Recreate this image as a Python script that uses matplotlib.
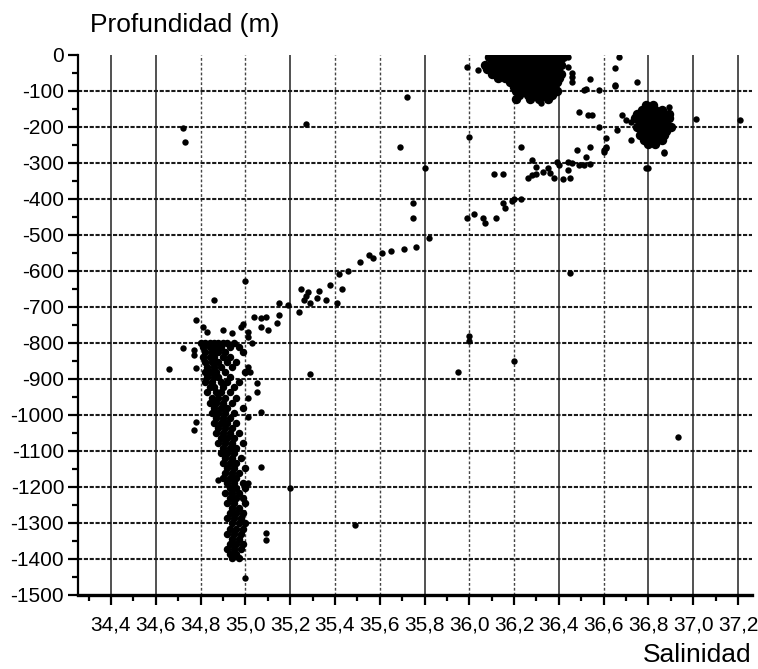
import numpy as np
import matplotlib.pyplot as plt

plt.rcParams['font.family'] = ['Liberation Sans', 'DejaVu Sans']

## Datos (salinidad, profundidad en m)

# nucleo superficial (36.1-36.4, 0 a -125 m): filas de profundidad y salinidades
sup_prof = [-5, -15, -27, -40, -52, -64, -76, -88, -100, -112, -122]
sup_sal = [
    [36.09, 36.12, 36.15, 36.18, 36.21, 36.24, 36.27, 36.30, 36.33, 36.36, 36.39, 36.42],
    [36.10, 36.13, 36.16, 36.19, 36.22, 36.25, 36.28, 36.31, 36.34, 36.37, 36.40],
    [36.07, 36.11, 36.14, 36.17, 36.20, 36.23, 36.26, 36.29, 36.32, 36.35, 36.38, 36.41],
    [36.08, 36.12, 36.15, 36.18, 36.21, 36.24, 36.27, 36.30, 36.33, 36.36, 36.39],
    [36.10, 36.14, 36.17, 36.20, 36.23, 36.26, 36.29, 36.32, 36.35, 36.38, 36.41],
    [36.13, 36.16, 36.19, 36.22, 36.25, 36.28, 36.31, 36.34, 36.37, 36.40],
    [36.18, 36.21, 36.24, 36.27, 36.30, 36.33, 36.36, 36.39],
    [36.20, 36.23, 36.26, 36.29, 36.32, 36.35, 36.38],
    [36.21, 36.24, 36.27, 36.30, 36.33, 36.36, 36.39],
    [36.22, 36.26, 36.29, 36.33, 36.37],
    [36.21, 36.27, 36.31, 36.35],
]

# nucleo a ~200 m (36.75-36.9)
med_prof = [-140, -152, -164, -176, -188, -200, -212, -224, -236, -248]
med_sal = [
    [36.79, 36.82],
    [36.77, 36.80, 36.83, 36.86],
    [36.75, 36.78, 36.81, 36.84, 36.87, 36.89],
    [36.74, 36.77, 36.80, 36.83, 36.86, 36.89],
    [36.76, 36.79, 36.82, 36.85, 36.88],
    [36.75, 36.78, 36.81, 36.84, 36.87, 36.90],
    [36.77, 36.80, 36.83, 36.86, 36.88],
    [36.76, 36.79, 36.82, 36.85, 36.87],
    [36.78, 36.81, 36.84, 36.86],
    [36.80, 36.83],
]

# columna profunda (34.8-35.0, -800 a -1400 m)
prof_prof = [-800, -812, -826, -840, -854, -868, -882, -896, -910, -924, -938, -952,
             -966, -980, -994, -1008, -1022, -1036, -1050, -1064, -1078, -1092, -1106,
             -1120, -1134, -1148, -1162, -1176, -1190, -1204, -1218, -1232, -1246,
             -1260, -1274, -1288, -1302, -1316, -1330, -1344, -1358, -1372, -1386, -1398]
prof_sal = [
    [34.80, 34.82, 34.84, 34.86, 34.88, 34.90, 34.92, 34.95],
    [34.81, 34.84, 34.87, 34.89, 34.93, 34.97],
    [34.82, 34.85, 34.88, 34.91, 34.99],
    [34.81, 34.84, 34.86, 34.90, 34.93],
    [34.82, 34.85, 34.88, 34.92, 34.96],
    [34.83, 34.86, 34.89, 34.94],
    [34.82, 34.84, 34.87, 34.91, 35.00],
    [34.83, 34.86, 34.88, 34.93],
    [34.82, 34.85, 34.89, 34.92, 34.97],
    [34.84, 34.86, 34.90, 34.95],
    [34.83, 34.87, 34.89, 34.93],
    [34.85, 34.88, 34.91, 34.96],
    [34.84, 34.87, 34.90, 34.94],
    [34.86, 34.89, 34.92, 34.99],
    [34.85, 34.88, 34.91, 34.95],
    [34.87, 34.90, 34.93],
    [34.86, 34.89, 34.92, 34.96],
    [34.88, 34.91, 34.94],
    [34.87, 34.90, 34.93, 34.97],
    [34.89, 34.92, 34.95],
    [34.88, 34.91, 34.94, 34.99],
    [34.90, 34.93, 34.96],
    [34.89, 34.92, 34.95],
    [34.91, 34.94, 34.98],
    [34.90, 34.93, 34.96],
    [34.92, 34.95, 35.00],
    [34.91, 34.94, 34.97],
    [34.90, 34.93, 34.96],
    [34.92, 34.95, 34.99],
    [34.93, 34.96, 35.00],
    [34.91, 34.94, 34.97],
    [34.93, 34.96, 34.99],
    [34.92, 34.95, 35.00],
    [34.94, 34.97],
    [34.93, 34.96, 34.99],
    [34.92, 34.95, 34.98],
    [34.94, 34.97, 35.00],
    [34.93, 34.96, 34.99],
    [34.92, 34.95, 34.98],
    [34.94, 34.97],
    [34.93, 34.96, 34.99],
    [34.92, 34.95, 34.98],
    [34.93, 34.96],
    [34.94, 34.97],
]

# puntos dispersos
disp_sal = [35.99, 36.04, 36.44, 36.44, 36.46, 36.46, 36.46, 36.54, 36.51, 36.52, 36.58,
            36.65, 36.67, 36.65, 36.75, 36.32, 36.21, 35.72,
            36.65, 36.68, 36.70, 36.72, 36.66, 36.61, 36.61, 36.60, 36.72, 36.87, 36.80,
            36.89, 37.01, 37.21, 36.49, 36.53, 36.55, 36.58,
            36.23, 36.00, 36.48, 36.54, 36.52, 36.60, 36.61, 35.69, 35.80, 36.40, 36.35,
            36.36, 36.39, 36.44, 36.28, 36.30, 36.26, 36.28, 36.30, 36.33, 36.38, 36.42,
            36.45, 36.44, 36.46, 36.49, 36.51, 36.54, 36.79, 36.87, 36.11, 36.15, 36.20,
            36.23, 36.19, 36.15, 36.16, 36.12, 35.99, 36.02, 36.06, 36.07, 35.75, 35.75,
            35.82, 35.71, 35.76, 36.45,
            35.61, 35.57, 35.51, 35.46, 35.42, 35.38, 35.43, 35.33, 35.28, 35.25, 35.27,
            35.32, 35.36, 35.15, 35.19, 35.24, 35.29, 35.41, 35.26, 35.65, 35.55, 35.00,
            34.86, 35.04, 35.07, 35.09, 35.07, 35.10, 35.15, 35.14, 34.78, 34.72, 34.66,
            34.77, 34.77, 34.78, 34.81, 34.83, 34.90, 34.94, 34.98, 34.99, 35.01, 35.01,
            35.03, 35.01, 35.02, 35.29, 35.05, 35.05, 35.07, 35.01, 35.01, 35.07, 35.01,
            35.20, 34.78, 34.77, 34.88, 35.00, 35.09, 35.09,
            34.72, 34.73, 35.27, 36.00, 36.00, 36.20, 35.95, 36.93, 35.49]
disp_prof = [-33, -42, -5, -33, -50, -62, -75, -67, -97, -94, -97,
             -36, -5, -83, -75, -133, -125, -117,
             -86, -167, -180, -186, -208, -230, -258, -269, -236, -269, -314,
             -144, -178, -181, -158, -167, -167, -200,
             -256, -228, -264, -256, -283, -264, -256, -256, -314, -306, -314,
             -328, -297, -297, -292, -311, -342, -333, -331, -325, -342, -344,
             -342, -319, -300, -306, -306, -303, -314, -272, -331, -331, -400,
             -400, -406, -411, -425, -453, -453, -442, -453, -467, -411, -453,
             -508, -539, -533, -606,
             -550, -564, -575, -600, -610, -640, -650, -655, -660, -650, -670,
             -675, -680, -689, -694, -714, -689, -689, -681, -545, -556, -628,
             -681, -728, -731, -728, -756, -764, -722, -744, -736, -814, -872,
             -819, -833, -869, -756, -769, -764, -772, -756, -747, -769, -783,
             -800, -867, -881, -886, -911, -936, -992, -953, -1005, -1144, -1189,
             -1203, -1019, -1042, -1181, -1453, -1328, -1347,
             -203, -242, -193, -780, -795, -850, -880, -1061, -1305]

xticks = [34.4, 34.6, 34.8, 35.0, 35.2, 35.4, 35.6, 35.8, 36.0, 36.2, 36.4, 36.6, 36.8, 37.0, 37.2]
xticklabels = ['34,4', '34,6', '34,8', '35,0', '35,2', '35,4', '35,6', '35,8', '36,0', '36,2',
               '36,4', '36,6', '36,8', '37,0', '37,2']
yticks = list(range(0, -1600, -100))


def aplanar(prof, sal):
    xs, ys = [], []
    for p, fila in zip(prof, sal):
        xs += fila
        ys += [p]*len(fila)
    return xs, ys


fig = plt.figure(figsize=(7.58, 6.69), dpi=100)
ax = fig.add_axes([0.103, 0.111, 0.889, 0.807])

# cuadricula
solidas = [34.4, 34.6, 35.2, 35.8, 36.4, 36.8, 37.0, 37.2]
for x in xticks:
    if x in solidas:
        ax.axvline(x, color='#222222', lw=1.1, zorder=1)
    else:
        ax.axvline(x, color='#444444', lw=1.0, ls=(0, (2, 1.5)), zorder=1)
for y in yticks[1:-1]:
    ax.axhline(y, color='#1a1a1a', lw=1.5, ls=(0, (2, 0.8)), zorder=1)

tamanos = [6.8, 6.8, 5.4]
for (prof, sal), ms in zip([(sup_prof, sup_sal), (med_prof, med_sal), (prof_prof, prof_sal)], tamanos):
    xs, ys = aplanar(prof, sal)
    ax.plot(xs, ys, 'o', color='black', ms=ms, mew=0, zorder=3)
ax.plot(disp_sal, disp_prof, 'o', color='black', ms=4.6, mew=0, zorder=3)

ax.set_xlim(34.253, 37.262)
ax.set_ylim(-1500, 0)
ax.spines['top'].set_visible(False)
ax.spines['right'].set_visible(False)
ax.spines['bottom'].set_linewidth(2.4)
ax.spines['left'].set_linewidth(1.6)

ax.set_xticks(xticks)
ax.set_xticklabels(xticklabels)
ax.set_xticks(np.arange(34.3, 37.25, 0.2), minor=True)
ax.set_yticks(yticks)
ax.set_yticklabels([str(v) for v in yticks])
ax.set_yticks(list(range(-50, -1500, -100)), minor=True)
ax.tick_params(axis='both', which='major', direction='out', length=7, width=1.6,
               labelsize=15, color='black')
ax.tick_params(axis='both', which='minor', direction='out', length=4, width=1.6)
ax.tick_params(axis='x', pad=8)
ax.tick_params(axis='y', pad=3)

fig.text(0.119, 0.962, 'Profundidad (m)', fontsize=19, ha='left', va='center')
fig.text(0.992, 0.021, 'Salinidad', fontsize=19, ha='right', va='center')

plt.savefig('out.png', dpi=100)
